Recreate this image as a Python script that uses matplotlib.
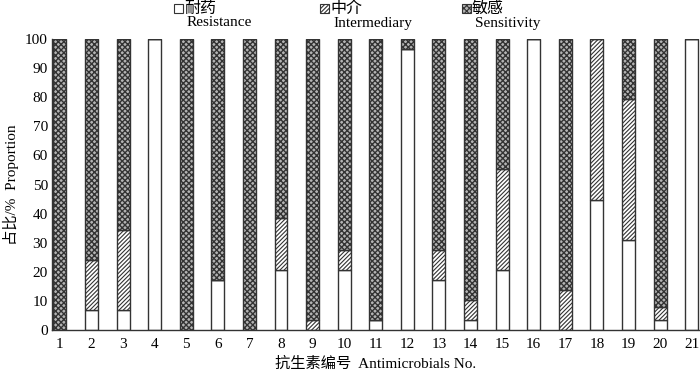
import matplotlib
matplotlib.use("Agg")
import matplotlib.pyplot as plt
from matplotlib.patches import Rectangle
import numpy as np

plt.rcParams['font.family'] = ['Liberation Serif', 'Noto Sans CJK SC']
plt.rcParams['hatch.linewidth'] = 0.8

categories = [str(i) for i in range(1, 22)]
resistance = [0, 6.9, 6.9, 100, 0, 17.2, 0, 20.7, 0, 20.7, 3.4, 96.6, 17.2, 3.4, 20.7, 100, 0, 44.8, 31.0, 3.4, 100]
intermediary = [0, 17.2, 27.6, 0, 0, 0, 0, 17.9, 3.4, 6.9, 0, 0, 10.3, 6.9, 34.5, 0, 13.8, 55.2, 48.3, 4.4, 0]
sensitivity = [100, 75.9, 65.5, 0, 100, 82.8, 100, 61.4, 96.6, 72.4, 96.6, 3.4, 72.5, 89.7, 44.8, 0, 86.2, 0, 20.7, 92.2, 0]
yticks = [0, 10, 20, 30, 40, 50, 60, 70, 80, 90, 100]

fig = plt.figure(figsize=(7, 3.75), dpi=100)
ax = fig.add_axes([0.0743, 0.12, 0.925, 0.776])

x = np.arange(1, len(categories) + 1)
w = 0.41
edge = '#333333'
int_hatch = '////////'
sens_hatch = 'xxxxxx'
sens_face = '#b4b4b4'
r = np.array(resistance)
i_ = np.array(intermediary)
s = np.array(sensitivity)
ax.bar(x, r, w, color='white', edgecolor=edge, linewidth=1.0)
ax.bar(x, i_, w, bottom=r, color='white', edgecolor=edge, linewidth=1.0, hatch=int_hatch)
sb = ax.bar(x, s, w, bottom=r + i_, color=sens_face, edgecolor=edge, linewidth=1.0, hatch=sens_hatch)
for p in sb:
    try:
        p.set_hatch_linewidth(1.0)
    except AttributeError:
        pass

ax.set_xlim(0.75, 21.25)
ax.set_ylim(0, 100)
ax.set_xticks(x)
ax.set_xticklabels(categories, fontsize=11)
ax.set_yticks(yticks)
ax.set_yticklabels([str(v) for v in yticks], fontsize=11)
ax.tick_params(axis='both', length=0, pad=6)
ax.tick_params(axis='y', pad=3)
for sp in ['top', 'right']:
    ax.spines[sp].set_visible(False)
for sp in ['left', 'bottom']:
    ax.spines[sp].set_color('#333333')
    ax.spines[sp].set_linewidth(1.0)
ax.set_xlabel('抗生素编号  Antimicrobials No.', fontsize=11, labelpad=4)
ax.set_ylabel('占比/%  Proportion', fontsize=11, labelpad=4)

# legend
items = [('耐药', 'Resistance', None, 'white', 174), ('中介', 'Intermediary', int_hatch, 'white', 320),
         ('敏感', 'Sensitivity', sens_hatch, sens_face, 462)]
for cn, en, h, fc, px in items:
    rect = Rectangle((px / 700, 1 - 13 / 375), 9 / 700, 9 / 375,
                     transform=fig.transFigure, facecolor=fc,
                     edgecolor=edge, linewidth=0.8, hatch=h)
    fig.patches.append(rect)
    fig.text((px + 10) / 700, 1 - 9 / 375, cn, fontsize=11.5, va='center', ha='left')
    fig.text((px + 13) / 700, 1 - 23 / 375, en, fontsize=11, va='center', ha='left')

fig.savefig('out.png', dpi=100)
